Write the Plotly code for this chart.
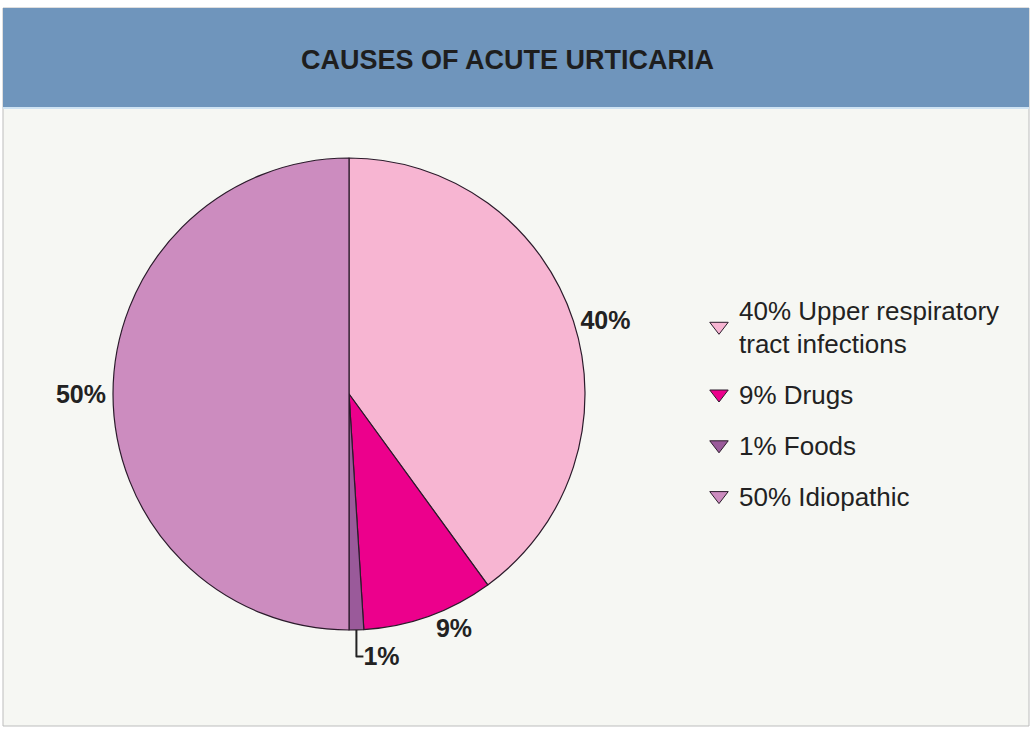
import plotly.graph_objects as go

# causes of acute urticaria, share in percent
causes = ['Upper respiratory<br>tract infections', 'Drugs', 'Foods', 'Idiopathic']
shares = [40, 9, 1, 50]
colors = ['#f7b5d2', '#ec008c', '#9a5a9a', '#cc8cbf']

W, H = 1033, 730

fig = go.Figure()

# the pie, clockwise from 12 o'clock
fig.add_trace(go.Pie(labels=causes, values=shares, sort=False,
                     direction='clockwise', rotation=0,
                     marker=dict(colors=colors, line=dict(color='#2b1b2b', width=1.2)),
                     texttemplate='<b>%{value}%</b>', textposition='outside',
                     textfont=dict(family='Liberation Sans', size=25, color='#222222'),
                     hoverinfo='label+percent', showlegend=False,
                     domain=dict(x=[113 / W, 585 / W], y=[100 / H, 572 / H])))

# legend entries with wedge-like markers
for i in range(len(causes)):
    fig.add_trace(go.Scatter(x=[None], y=[None], mode='markers',
                             name=f'{shares[i]}% {causes[i]}',
                             legendgroup=str(i),
                             marker=dict(symbol='triangle-down', size=16, color=colors[i],
                                         line=dict(color='#2b1b2b', width=1))))

fig.update_layout(
    width=W, height=H,
    margin=dict(l=0, r=0, t=0, b=0),
    paper_bgcolor='white',
    plot_bgcolor='rgba(0,0,0,0)',
    xaxis=dict(visible=False),
    yaxis=dict(visible=False),
    legend=dict(x=699 / W, y=1 - 286 / H, xanchor='left', yanchor='top',
                font=dict(family='Liberation Sans', size=26, color='#222222'),
                bgcolor='rgba(0,0,0,0)', tracegroupgap=14, itemsizing='trace'),
    shapes=[
        # panel background
        dict(type='rect', xref='paper', yref='paper', layer='below',
             x0=3 / W, x1=1029 / W, y0=1 - 726 / H, y1=1 - 8 / H,
             fillcolor='#f6f7f3', line=dict(color='#bdbdbd', width=1)),
        # header band
        dict(type='rect', xref='paper', yref='paper', layer='below',
             x0=3 / W, x1=1029 / W, y0=1 - 107 / H, y1=1 - 8 / H,
             fillcolor='#6f95bc', line=dict(width=0)),
        dict(type='line', xref='paper', yref='paper', layer='below',
             x0=3 / W, x1=1029 / W, y0=1 - 108 / H, y1=1 - 108 / H,
             line=dict(color='#cfe3f3', width=2)),
    ],
    annotations=[
        dict(text='<b>CAUSES OF ACUTE URTICARIA</b>', xref='paper', yref='paper',
             x=507 / W, y=1 - 60 / H, xanchor='center', yanchor='middle', showarrow=False,
             font=dict(family='Liberation Sans', size=27, color='#1e1e1e')),
    ],
)

fig.write_html('out.html', config={'displayModeBar': False},
               post_script="document.body.style.margin='0px';")
